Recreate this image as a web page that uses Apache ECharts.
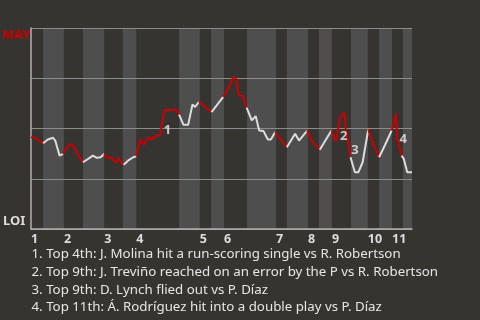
<!DOCTYPE html>
<html>
<head>
<meta charset="utf-8">
<script src="https://cdn.jsdelivr.net/npm/echarts@6/dist/echarts.min.js"></script>
<style>html,body{margin:0;padding:0;background:#363430;}#c{width:480px;height:320px;}</style>
</head>
<body>
<div id="c"></div>
<script>
// Half-inning boundaries (game progress units, plays)
const halfEdges = [0, 2.8, 7.6, 12.0, 16.9, 21.2, 24.3, 34.2, 39.0, 41.6, 44.6, 49.9, 56.6, 59.1, 64.0, 66.5, 69.5, 73.9, 77.8, 80.4, 83.4, 85.9, 88];
const inningLabels = ['1','2','3','4','5','6','7','8','9','10','11'];
// Win probability for MAY (%) after each play
const playX = [0, 1.0, 2.0, 2.8, 3.9, 5.1, 5.6, 6.6, 7.4, 8.2, 8.7, 9.5, 10.5, 10.9, 12.0, 13.2, 14.3, 15.2, 16.1, 16.9,
  17.3, 18.2, 18.7, 19.5, 20.3, 21.0, 21.4, 22.4, 23.6, 24.3, 25.2, 26.1, 27.1, 27.9, 28.9, 29.8, 30.8, 33.5, 34.2,
  35.2, 36.3, 37.3, 37.9, 38.8, 41.7, 44.4, 45.6, 46.6, 47.3, 48.0, 49.0, 49.8, 51.0, 51.9, 52.7, 53.7, 54.7, 55.4, 56.4,
  57.5, 59.1, 61.0, 61.9, 63.8, 65.0, 66.7, 69.4, 70.4, 71.4, 72.3, 72.7, 73.8, 74.8, 75.6, 76.6, 77.9, 78.9, 80.4,
  81.8, 83.3, 83.8, 84.3, 84.6, 85.6, 86.1, 86.9, 88];
const mayWinPct = [45.7, 45.4, 43.7, 42.7, 44.5, 45.4, 44.0, 36.5, 37.4, 39.9, 42.0, 42.0, 39.0, 36.5, 33.2, 34.9, 36.5, 35.4, 35.7, 37.4,
  35.7, 35.4, 35.4, 33.2, 35.2, 32.4, 32.0, 34.0, 35.7, 36.2, 44.5, 42.0, 45.7, 44.5, 46.5, 46.5, 59.0, 59.4, 56.9,
  51.9, 51.9, 61.9, 60.7, 63.2, 58.2, 65.7, 70.0, 75.2, 75.2, 66.5, 66.0, 60.4, 54.0, 56.2, 49.0, 48.7, 44.5, 44.5, 48.2,
  44.9, 40.7, 47.4, 44.0, 49.0, 43.2, 39.4, 49.0, 43.5, 55.7, 57.9, 49.9, 35.7, 28.2, 28.2, 33.2, 49.5, 42.9, 35.7,
  41.9, 49.0, 52.4, 57.4, 44.9, 36.5, 34.9, 28.2, 28.2];
// index of last play of each half-inning
const halfEndIdx = [3, 8, 14, 19, 26, 29, 38, 43, 44, 45, 51, 58, 60, 63, 65, 66, 71, 75, 77, 79, 83, 86];
// annotated plays
const noteIdx = [36, 68, 71, 82];
const noteMarks = ['1', '2', '3', '4'];
const notes = [
  '1. Top 4th: J. Molina hit a run-scoring single vs R. Robertson',
  '2. Top 9th: J. Treviño reached on an error by the P vs R. Robertson',
  '3. Top 9th: D. Lynch flied out vs P. Díaz',
  '4. Top 11th: Á. Rodríguez hit into a double play vs P. Díaz'
];
const teamTop = 'MAY', teamBottom = 'LOI';

const RED = '#cc0000', WHITE = '#dcdcdc', BG = '#363430', BAND = '#4e4e4e';
const FONT = 'Noto Sans';
const noteOffsets = [[3, 20], [3.5, 19.5], [4.5, -6.5], [6, 1]];

const points = playX.map((x, i) => [x, mayWinPct[i]]);
const series = [];
// bands for bottom halves
const bandData = [];
for (let h = 1; h < halfEdges.length - 1; h += 2) {
  bandData.push([{ xAxis: halfEdges[h] }, { xAxis: halfEdges[h + 1] }]);
}
series.push({
  type: 'line', data: [], silent: true,
  markArea: { silent: true, itemStyle: { color: BAND }, data: bandData }
});
for (let h = 0; h < halfEndIdx.length; h++) {
  const s = h === 0 ? 0 : halfEndIdx[h - 1];
  const e = halfEndIdx[h];
  series.push({
    type: 'line', z: 5, showSymbol: false, silent: true,
    data: points.slice(s, e + 1),
    lineStyle: { color: h % 2 === 0 ? RED : WHITE, width: 2 },
    itemStyle: { color: h % 2 === 0 ? RED : WHITE }
  });
}
series.push({
  type: 'scatter', z: 6, symbolSize: 0, silent: true,
  data: noteIdx.map((idx, k) => ({
    value: points[idx],
    label: { show: true, position: 'inside', formatter: noteMarks[k], offset: noteOffsets[k],
      color: '#eeeeee', fontWeight: 'bold', fontSize: 13, fontFamily: FONT }
  }))
});

const topStarts = inningLabels.map((_, i) => halfEdges[2 * i]);

const chart = echarts.init(document.getElementById('c'), null, { renderer: 'canvas' });
chart.setOption({
  backgroundColor: BG,
  animation: false,
  grid: { left: 31, right: 68, top: 28, bottom: 91 },
  title: {
    text: notes.join('\n'), left: 31.5, top: 245.5, padding: 0,
    textStyle: { color: '#e6e6e6', fontSize: 13.3, fontWeight: 'normal', lineHeight: 17.7, fontFamily: FONT }
  },
  graphic: [
    { type: 'text', left: 2, top: 29, style: { text: teamTop, fill: RED, font: 'bold 13px "Noto Sans"' } },
    { type: 'text', left: 3, top: 215, style: { text: teamBottom, fill: '#dddddd', font: 'bold 13px "Noto Sans"' } }
  ],
  xAxis: {
    type: 'value', min: 0, max: 88, z: 3,
    axisLine: { show: true, lineStyle: { color: '#b0b0b0', width: 1.5 } },
    axisTick: { show: false },
    splitLine: { show: false },
    axisLabel: {
      customValues: topStarts,
      formatter: v => inningLabels[topStarts.indexOf(v)] || '',
      align: 'left', margin: 4, color: '#dddddd', fontWeight: 'bold', fontSize: 12.5, fontFamily: FONT
    }
  },
  yAxis: {
    type: 'value', min: 0, max: 100, interval: 25, z: 3,
    axisLine: { show: true, lineStyle: { color: '#b0b0b0', width: 1.5 } },
    axisTick: { show: false },
    axisLabel: { show: false },
    splitLine: { show: true, lineStyle: { color: '#8c8c8c', width: 1 } }
  },
  series: series
});
</script>
</body>
</html>
